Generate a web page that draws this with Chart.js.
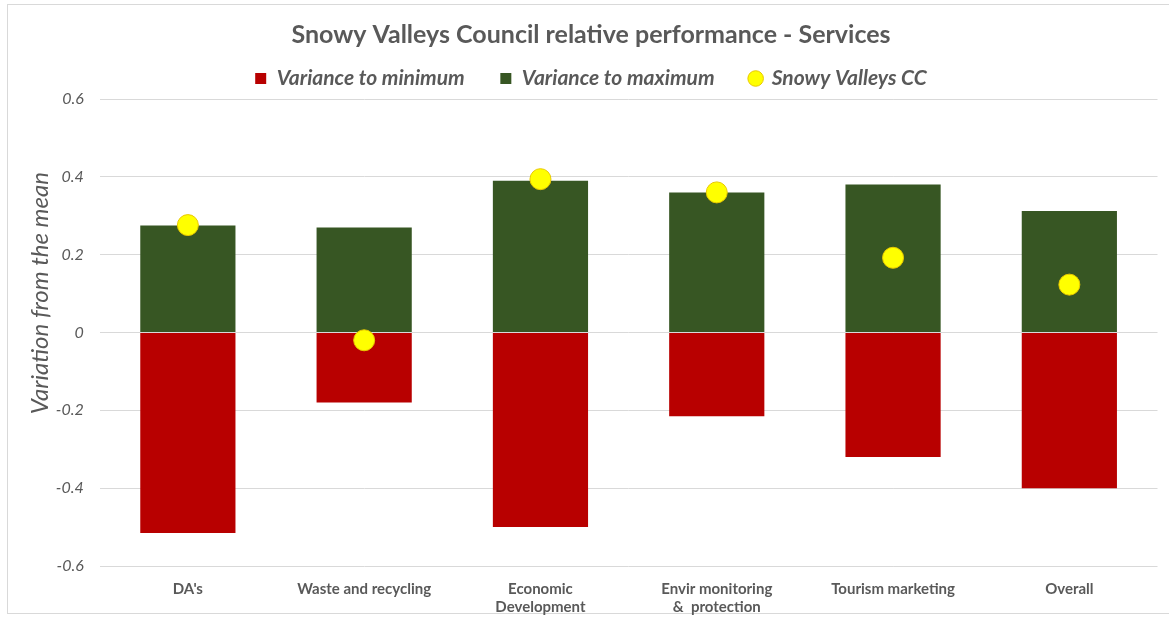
<!DOCTYPE html>
<html>
<head>
  <meta charset="utf-8">
  <title>Snowy Valleys Council relative performance - Services</title>
  <script src="https://cdn.jsdelivr.net/npm/chart.js"></script>
  <style>
    body { margin:0; background:#fff; }
    .frame { position:absolute; left:7px; top:4px; width:1170px; height:608px; border:1px solid #d9d9d9; }
    .wrap { position:absolute; left:0; top:0; width:1169px; height:617px; }
  </style>
</head>
<body>
  <div class="frame"></div>
  <div class="wrap"><canvas id="chart" width="1169" height="617"></canvas></div>

  <script>
    // données
    const categories = ["DA's", "Waste and recycling", ["Economic", "Development"], ["Envir monitoring", "&  protection"], "Tourism marketing", "Overall"];
    const varianceToMin = [-0.515, -0.18, -0.50, -0.215, -0.32, -0.40];
    const varianceToMax = [0.275, 0.27, 0.39, 0.36, 0.38, 0.312];
    const snowyValleys = [0.276, -0.02, 0.394, 0.36, 0.192, 0.123];
    const yTicks = [-0.6, -0.4, -0.2, 0, 0.2, 0.4, 0.6];
    const legendOrder = ['Variance to minimum', 'Variance to maximum', 'Snowy Valleys CC'];

    const grey = '#595959';
    const font = "Lato, 'Open Sans', sans-serif";

    const ctx = document.getElementById('chart').getContext('2d');
    new Chart(ctx, {
      data: {
        labels: categories,
        datasets: [
          {
            type: 'scatter',
            label: 'Snowy Valleys CC',
            data: snowyValleys,
            stack: 'dots',
            backgroundColor: '#FFFF00',
            borderColor: '#E8C800',
            borderWidth: 1,
            pointRadius: 10.5,
            pointStyle: 'circle',
            showLine: false,
            order: 0
          },
          {
            type: 'bar',
            label: 'Variance to minimum',
            data: varianceToMin,
            stack: 'bars',
            backgroundColor: '#B80000',
            pointStyle: 'rect',
            barPercentage: 0.54,
            categoryPercentage: 1,
            order: 1
          },
          {
            type: 'bar',
            label: 'Variance to maximum',
            data: varianceToMax,
            stack: 'bars',
            backgroundColor: '#375623',
            pointStyle: 'rect',
            barPercentage: 0.54,
            categoryPercentage: 1,
            order: 1
          }
        ]
      },
      options: {
        responsive: false,
        animation: false,
        layout: { padding: { left: 22, right: 9, top: 8, bottom: 0 } },
        plugins: {
          title: {
            display: true,
            text: 'Snowy Valleys Council relative performance - Services',
            color: grey,
            font: { family: font, size: 25, weight: 'bold' },
            padding: { top: 12, bottom: 10 }
          },
          legend: {
            display: true,
            labels: {
              usePointStyle: true,
              boxWidth: 11,
              boxHeight: 11,
              padding: 8,
              color: grey,
              font: { family: font, size: 21, style: 'italic', weight: 'bold' },
              // espacement entre les entrées comme dans Excel
              generateLabels: (chart) => {
                const items = Chart.defaults.plugins.legend.labels.generateLabels(chart);
                items.sort((a, b) => legendOrder.indexOf(a.text) - legendOrder.indexOf(b.text));
                items.forEach((it, i) => { if (i < items.length - 1) it.text = it.text + '      '; });
                return items;
              }
            }
          },
          tooltip: { enabled: false }
        },
        scales: {
          x: {
            type: 'category',
            stacked: true,
            offset: true,
            grid: { display: false, drawTicks: false },
            border: { display: false },
            afterFit: (axis) => { axis.height -= 13; },
            ticks: {
              color: grey,
              font: { family: font, size: 15, weight: 'bold' },
              maxRotation: 0,
              autoSkip: false,
              padding: 14
            }
          },
          y: {
            stacked: true,
            min: -0.6,
            max: 0.6,
            afterBuildTicks: (axis) => { axis.ticks = yTicks.map(v => ({ value: v })); },
            afterFit: (axis) => { axis.width -= 15; },
            grid: { color: '#D9D9D9', drawTicks: false },
            border: { display: false },
            ticks: {
              color: grey,
              padding: 16,
              font: { family: font, size: 16, style: 'italic' },
              callback: (v) => v === 0 ? '0' : (Math.round(v * 10) / 10).toString()
            },
            title: {
              display: true,
              // espaces en tête pour remonter le titre comme dans l'original
              text: '              Variation from the mean',
              color: grey,
              font: { family: font, size: 24, style: 'italic' },
              padding: { top: 4, bottom: 0 }
            }
          }
        }
      }
    });
  </script>
</body>
</html>
